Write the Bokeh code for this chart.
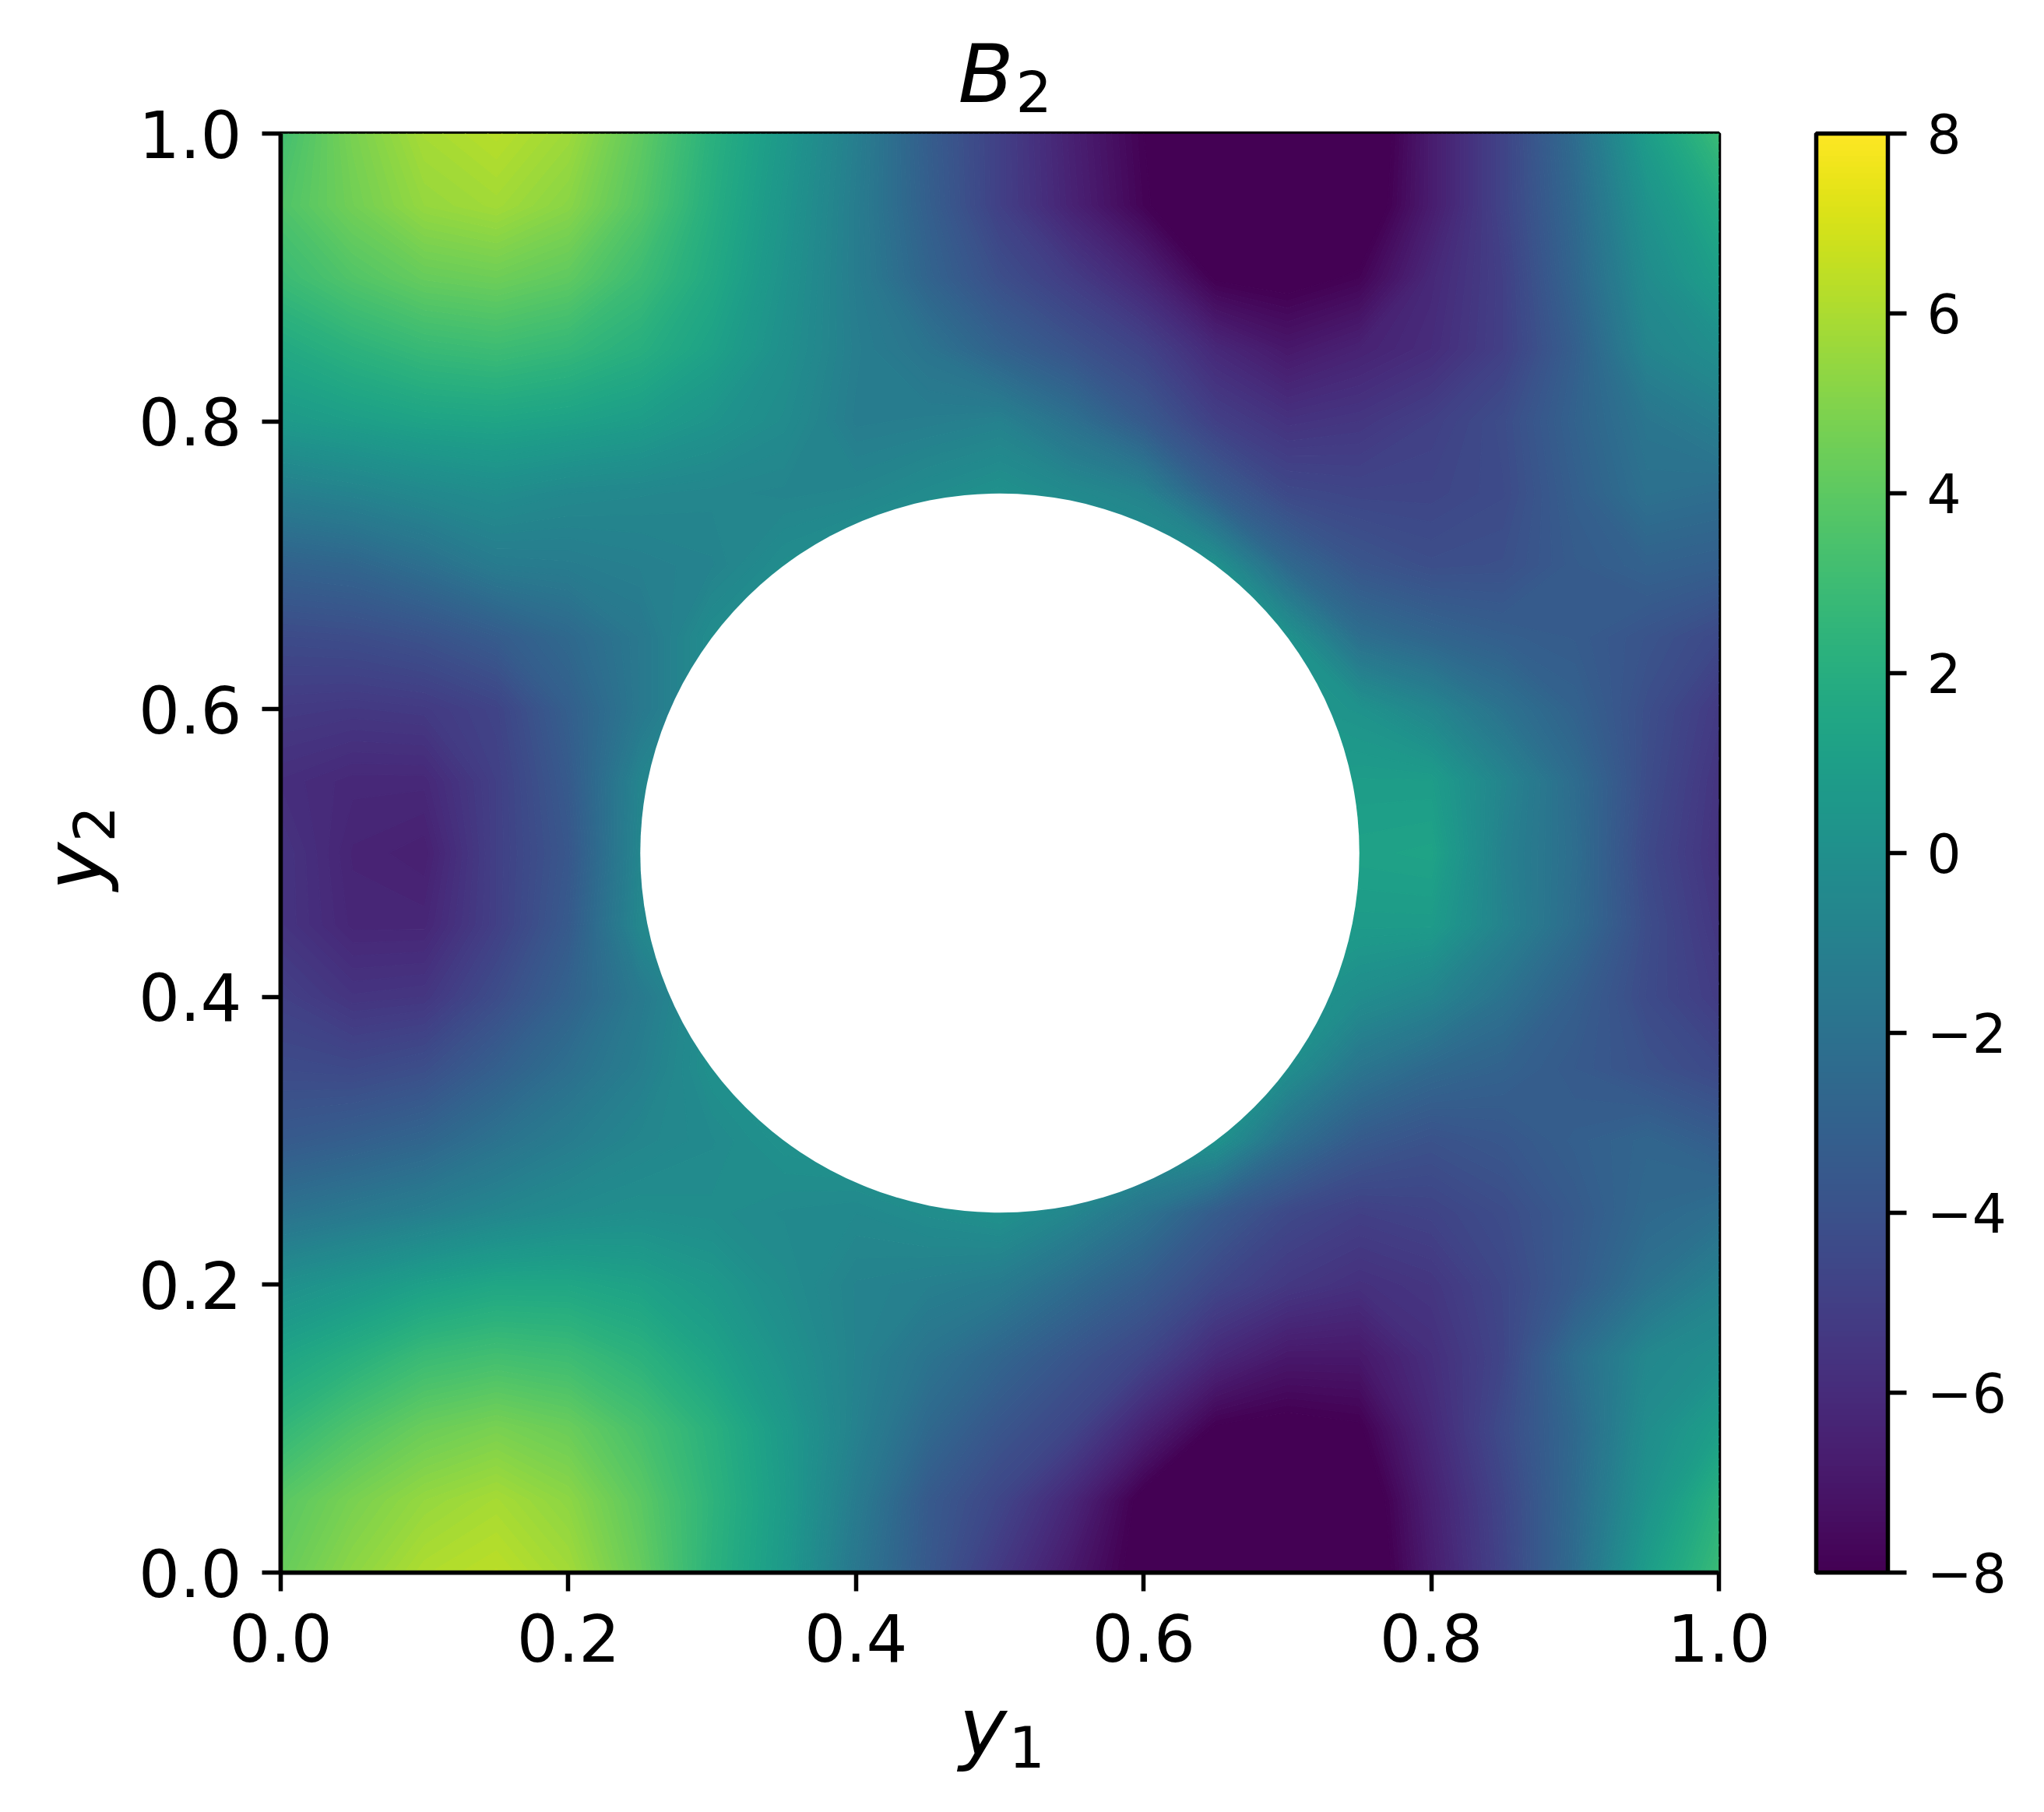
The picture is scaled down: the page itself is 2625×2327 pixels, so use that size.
from bokeh.embed import file_html
from bokeh.resources import INLINE
from bokeh.plotting import figure
from bokeh.models import ColorBar, LinearColorMapper, FixedTicker, Label
from bokeh.palettes import Viridis256
import numpy as np
import math

y1 = [0.0,0.05,0.1,0.15,0.2,0.25,0.3,0.35,0.4,0.45,0.5,0.55,0.6,0.65,0.7,0.75,0.8,0.85,0.9,0.95,1.0]
y2 = [1.0,0.95,0.9,0.85,0.8,0.75,0.7,0.65,0.6,0.55,0.5,0.45,0.4,0.35,0.3,0.25,0.2,0.15,0.1,0.05,0.0]

row_100 = [3.2,4.8,5.9,6.3,5.7,4.1,2.2,0.6,-1.2,-3.3,-5.0,-6.6,-8.0,-9.0,-9.5,-9.0,-6.8,-4.8,-2.4,0.9,2.9]
row_095 = [3.6,4.6,5.5,5.8,5.2,3.8,2.0,0.4,-1.3,-3.2,-5.0,-6.5,-7.9,-8.9,-9.4,-8.8,-6.8,-4.8,-2.6,0.2,1.8]
row_090 = [2.9,3.7,4.3,4.5,4.1,3.0,1.7,0.2,-1.3,-2.9,-4.2,-5.2,-6.4,-8.1,-8.3,-7.9,-6.2,-5.0,-2.8,-0.3,1.0]
row_085 = [1.7,2.3,2.8,3.0,2.7,2.1,1.2,0.0,-1.2,-1.9,-3.0,-3.9,-4.8,-6.2,-7.0,-6.5,-6.0,-5.0,-3.2,-0.8,-0.1]
row_080 = [0.7,1.0,1.3,1.4,1.2,0.9,0.3,-0.3,-1.3,-1.2,-1.0,-2.1,-3.5,-5.0,-5.7,-5.5,-5.0,-4.3,-3.0,-1.8,-1.2]
row_075 = [-1.2,-0.9,-0.5,-0.2,-0.5,-0.6,-0.7,-0.8,-0.7,-0.3,0.1,-0.4,-0.9,-3.2,-4.5,-4.7,-4.7,-4.4,-3.2,-2.1,-2.3]
row_070 = [-3.0,-2.8,-2.2,-1.4,-1.3,-1.1,-0.9,-0.2,0.3,0.3,0.3,0.3,0.3,0.1,-2.6,-3.8,-4.2,-4.1,-3.4,-3.0,-3.2]
row_065 = [-4.4,-4.3,-4.0,-3.4,-2.6,-1.6,-0.2,0.3,0.3,0.3,0.3,0.3,0.3,0.3,0.2,-2.2,-2.8,-3.2,-3.4,-3.9,-4.5]
row_060 = [-5.3,-5.4,-5.3,-4.8,-3.2,-1.6,-0.2,0.3,0.3,0.3,0.3,0.3,0.3,0.3,0.5,0.2,-0.7,-2.0,-3.0,-4.2,-5.3]
row_055 = [-5.9,-6.2,-6.2,-5.0,-3.5,-0.8,0.0,0.3,0.3,0.3,0.3,0.3,0.3,0.3,0.8,0.9,0.9,-0.8,-2.4,-4.3,-5.6]
row_050 = [-5.6,-6.4,-6.6,-5.0,-3.7,-0.7,0.0,0.3,0.3,0.3,0.3,0.3,0.3,0.3,1.0,1.2,1.3,-1.0,-2.3,-4.5,-5.7]
row_045 = [-5.6,-6.3,-6.3,-5.0,-3.5,-0.6,0.0,0.3,0.3,0.3,0.3,0.3,0.3,0.3,0.8,0.8,0.8,-0.9,-2.4,-4.3,-5.5]
row_040 = [-5.0,-5.6,-5.5,-4.3,-3.0,-1.5,0.0,0.3,0.3,0.3,0.3,0.3,0.3,0.3,0.5,-0.2,-0.8,-2.0,-3.2,-4.4,-5.2]
row_035 = [-4.4,-4.5,-4.2,-3.2,-2.2,-1.2,0.0,0.3,0.3,0.3,0.3,0.3,0.3,0.3,-0.1,-1.8,-2.6,-3.0,-3.5,-4.0,-4.5]
row_030 = [-3.5,-3.2,-2.8,-2.0,-1.3,-0.7,-0.4,0.1,0.3,0.3,0.3,0.3,0.3,0.2,-2.2,-3.5,-4.0,-3.7,-3.2,-2.8,-3.3]
row_025 = [-2.0,-1.6,-1.2,-0.7,-0.3,-0.1,-0.2,-0.4,-0.5,-0.2,0.1,-0.7,-1.9,-3.4,-4.5,-5.0,-4.8,-4.3,-3.5,-2.6,-2.2]
row_020 = [0.0,0.5,1.1,1.5,1.5,1.2,0.6,-0.2,-0.9,-1.1,-1.4,-2.4,-3.4,-4.6,-5.4,-5.8,-5.5,-4.6,-3.4,-2.0,-1.0]
row_015 = [1.4,2.1,2.9,3.2,3.0,2.3,1.3,0.2,-0.9,-1.9,-2.8,-3.8,-4.7,-6.2,-7.0,-7.0,-5.9,-4.7,-2.3,-0.6,-0.1]
row_010 = [2.6,3.6,4.4,4.8,4.4,3.4,2.2,0.7,-1.0,-2.6,-3.8,-4.7,-6.5,-8.1,-8.3,-8.1,-6.2,-4.4,-2.6,-0.2,1.0]
row_005 = [3.9,4.8,5.5,5.9,5.3,4.0,2.4,0.8,-1.4,-3.5,-4.7,-6.3,-8.3,-9.0,-9.3,-8.8,-6.6,-4.7,-2.5,0.2,2.2]
row_000 = [4.3,5.3,6.1,6.4,5.8,4.3,2.3,0.7,-1.7,-3.6,-5.4,-7.0,-8.4,-9.2,-9.5,-9.0,-6.8,-4.8,-2.4,0.9,2.9]

rows = [row_100,row_095,row_090,row_085,row_080,row_075,row_070,row_065,row_060,row_055,row_050,
        row_045,row_040,row_035,row_030,row_025,row_020,row_015,row_010,row_005,row_000]

hole_x, hole_y, hole_r = [0.5], [0.5], [0.25]
ticks = [0.0,0.2,0.4,0.6,0.8,1.0]
tick_labels = {0.0:"0.0",0.2:"0.2",0.4:"0.4",0.6:"0.6",0.8:"0.8",1.0:"1.0",0:"0.0",1:"1.0"}
cbar_ticks = [-8,-6,-4,-2,0,2,4,6,8]
cbar_labels = {-8:"−8",-6:"−6",-4:"−4",-2:"−2",0:"0",2:"2",4:"4",6:"6",8:"8"}

FONT = "DejaVu Sans"
LW = 5.5
W, H = 2609, 2311
FL, FT, FW, FH = 360, 171, 1847, 1848

p = figure(width=W, height=H, x_range=(0,1), y_range=(0,1), output_backend="svg", toolbar_location=None,
           frame_width=FW, frame_height=FH, min_border_left=FL, min_border_top=FT,
           min_border_right=W-FL-FW, min_border_bottom=H-FT-FH,
           title="B", background_fill_color="white")
p.grid.visible = False
p.outline_line_color = "black"
p.outline_line_width = LW

# colour bands: values under -8 keep the lowest colour, as the reference is clipped there
inner = np.linspace(-8, 8, 129)
levels = [-12.0] + [float(v) for v in inner]
idx = [0] + [int(round((a + 0.0625 + 8) / 16 * 255)) for a in inner[:-1]]
fills = [Viridis256[i] for i in idx]
Z = np.array(rows[::-1], dtype=float)
p.contour(np.array(y1), np.array(y2[::-1]), Z, levels, fill_color=fills,
          line_color=fills + [fills[-1]], line_width=1.5)
p.circle(x=hole_x, y=hole_y, radius=hole_r, fill_color="white", line_color=None)

for ax in (p.xaxis[0], p.yaxis[0]):
    ax.ticker = FixedTicker(ticks=ticks)
    ax.major_label_overrides = tick_labels
    ax.major_label_text_font = FONT
    ax.major_label_text_font_size = "83.3px"
    ax.major_label_text_color = "black"
    ax.axis_line_color = "black"
    ax.axis_line_width = LW
    ax.major_tick_line_color = "black"
    ax.major_tick_line_width = LW
    ax.major_tick_out = 24
    ax.major_tick_in = 0
    ax.minor_tick_line_color = None
p.xaxis[0].major_label_standoff = 28
p.yaxis[0].major_label_standoff = 26

p.title.align = "left"
p.title.offset = 870
p.title.text_font = FONT
p.title.text_font_size = "104px"
p.title.text_font_style = "italic"
p.title.text_color = "black"
p.title.standoff = 32


def sub_label(text, ax, ay, size, style="normal", angle=0.0):
    """Text anchored at (ax, ay) in canvas pixels; a side panel keeps it unclipped."""
    p.add_layout(Label(x=ax, y=ay, x_units="canvas", y_units="canvas", text=text,
                       text_font=FONT, text_font_size=size, text_font_style=style, text_color="black",
                       text_align="left", text_baseline="alphabetic", angle=angle), "right")


sub_label("2", 1304, 116, "73px")
sub_label("y", 1231, 2217, "104px", "italic")
sub_label("1", 1295, 2242, "73px")
sub_label("y", 94, 1143, "104px", "italic", math.pi / 2)
sub_label("2", 119, 1081, "73px", "normal", math.pi / 2)

mapper = LinearColorMapper(palette=Viridis256, low=-8, high=8)
cb = ColorBar(color_mapper=mapper, ticker=FixedTicker(ticks=cbar_ticks),
              major_label_overrides=cbar_labels, width=92, height=FH, padding=0,
              location=(FW + 125, 0), major_tick_in=0, major_tick_out=24,
              major_tick_line_color="black", major_tick_line_width=LW,
              minor_tick_line_color=None, bar_line_color="black", bar_line_width=LW,
              major_label_text_font=FONT, major_label_text_font_size="69.4px",
              major_label_text_color="black", label_standoff=26,
              background_fill_color=None, border_line_color=None)
p.add_layout(cb)

open("out.html", "w").write(file_html(p, INLINE))
